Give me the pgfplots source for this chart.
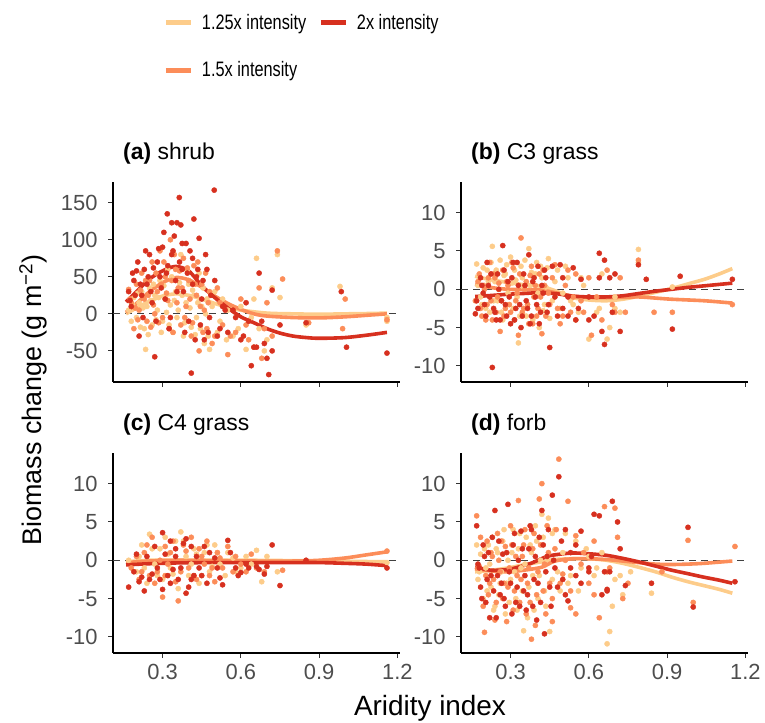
\documentclass[border=0pt]{standalone}
\usepackage{graphicx}
\usepackage{pgfplots}
\pgfplotsset{compat=1.18}
\usepackage{fontspec}
\setmainfont{Liberation Sans}
\definecolor{cL}{HTML}{FDCC8A}
\definecolor{cM}{HTML}{FC8D59}
\definecolor{cH}{HTML}{D7301F}
\definecolor{tickgray}{HTML}{4D4D4D}
\newcommand{\lgd}[1]{\scalebox{0.78}[1]{#1}}
\pgfplotsset{
  panel/.style={
    scale only axis, width=287bp, height=200bp,
    xmin=0.11, xmax=1.21,
    xtick={0.3,0.6,0.9,1.2},
    axis x line*=bottom, axis y line*=left,
    axis line style={black, line width=1.1bp, -},
    every tick/.style={black!80, line width=1bp},
    tick align=outside, major tick length=5bp,
    tick label style={font=\fontsize{22}{22}\selectfont, text=tickgray},
    xticklabel style={yshift=-3bp}, yticklabel style={xshift=-7bp},
    title style={at={(0.035,1)}, anchor=base west, yshift=17bp, font=\fontsize{23}{23}\selectfont, inner sep=0pt},
  },
  smallpanel/.style={ymin=-12.1, ymax=14, ytick={-10,-5,0,5,10}, yticklabels={-10,-5,0,5,10}},
  pts/.style={only marks, mark=*, color=#1, mark size=2.6bp, mark options={draw=#1, fill=#1, line width=0.4bp}, forget plot},
  fit/.style={color=#1, line width=3.6bp, smooth, no marks, forget plot},
  zero/.style={forget plot, color=black!75, line width=0.9bp, dash pattern=on 7bp off 5bp},
}
\begin{document}
\begin{tikzpicture}
\useasboundingbox (0bp,0bp) rectangle (765bp,723bp);

% ---------------- (a) shrub
\begin{axis}[panel, at={(113bp,341bp)}, anchor=south west,
  ymin=-92, ymax=178, ytick={-50,0,50,100,150}, yticklabels={-50,0,50,100,150},
  xticklabels={,,,},
  title={\textbf{(a)} shrub},
  legend columns=2,
  legend cell align=left,
  legend style={at={(0.164,1.86)}, anchor=north west, draw=none, fill=none,
    font=\fontsize{21}{21}\selectfont, row sep=27bp,
    /tikz/every even column/.append style={column sep=10bp}},
  legend image code/.code={\draw[#1, line width=5bp] (0bp,0bp) -- (25bp,0bp); \path (34bp,0bp);},
]
\addlegendimage{color=cL}\addlegendentry{\lgd{1.25x intensity}}
\addlegendimage{color=cH}\addlegendentry{\lgd{2x intensity}}
\addlegendimage{color=cM}\addlegendentry{\lgd{1.5x intensity}}
\addplot[zero] coordinates {(0.11,0) (1.21,0)};
\addplot[pts=cL] coordinates {(0.17,5) (0.18,-10) (0.19,22) (0.2,-5) (0.21,15) (0.22,30) (0.23,-20) (0.235,-48) (0.24,10) (0.25,35) (0.26,-15) (0.27,25) (0.28,5) (0.29,45) (0.3,-10) (0.31,20) (0.32,60) (0.33,12) (0.34,-25) (0.35,30) (0.36,5) (0.37,80) (0.38,-30) (0.39,15) (0.4,40) (0.41,-18) (0.42,25) (0.43,-5) (0.44,55) (0.45,10) (0.46,-40) (0.47,20) (0.48,-48) (0.5,30) (0.52,-10) (0.55,5) (0.57,-30) (0.6,10) (0.62,-48) (0.65,20) (0.66,75) (0.67,-20) (0.69,-50) (0.72,35) (0.74,80) (0.75,22) (0.85,-15) (0.98,37) (1.16,-10) (1.16,-5)
 (0.185,12) (0.205,28) (0.215,-18) (0.225,8) (0.245,-28) (0.255,18) (0.265,40) (0.275,-8) (0.285,22) (0.295,-25) (0.305,38) (0.315,2) (0.325,-15) (0.335,50) (0.345,18) (0.355,-5) (0.365,42) (0.375,25) (0.385,-12) (0.395,58) (0.405,8) (0.415,32) (0.425,-28) (0.435,15) (0.445,-20) (0.455,35) (0.465,0) (0.475,-30) (0.49,10) (0.51,-25) (0.53,20) (0.545,-35) (0.59,-20) (0.64,-5) (0.7,-35)};
\addplot[pts=cM] coordinates {(0.17,33) (0.18,15) (0.19,-20) (0.2,40) (0.21,5) (0.22,55) (0.23,20) (0.24,-10) (0.25,45) (0.26,70) (0.27,0) (0.28,30) (0.29,85) (0.3,-5) (0.31,50) (0.32,18) (0.33,100) (0.34,-25) (0.35,60) (0.36,35) (0.37,-15) (0.38,75) (0.39,10) (0.4,45) (0.41,-30) (0.42,65) (0.43,25) (0.44,-50) (0.45,40) (0.46,5) (0.47,-20) (0.48,30) (0.5,-30) (0.52,15) (0.55,-55) (0.58,-25) (0.6,20) (0.63,-35) (0.65,-45) (0.67,35) (0.69,-20) (0.72,-30) (0.74,85) (0.76,47) (0.86,-12) (1.0,20) (0.99,-20) (1.16,-8)
 (0.175,20) (0.195,8) (0.205,-8) (0.215,32) (0.235,45) (0.245,25) (0.255,-18) (0.265,12) (0.275,55) (0.285,-12) (0.295,40) (0.305,70) (0.315,28) (0.325,-20) (0.335,45) (0.345,80) (0.355,15) (0.365,58) (0.375,35) (0.385,-5) (0.395,62) (0.405,20) (0.415,-12) (0.425,40) (0.435,70) (0.445,10) (0.455,-25) (0.465,55) (0.475,15) (0.49,-40) (0.51,35) (0.53,-15) (0.56,-30) (0.62,-15) (0.68,-60) (0.7,15)};
\addplot[pts=cH] coordinates {(0.17,30) (0.18,10) (0.19,45) (0.2,58) (0.21,-30) (0.22,25) (0.23,60) (0.24,40) (0.25,80) (0.26,15) (0.27,-58) (0.28,70) (0.29,50) (0.3,90) (0.31,20) (0.318,135) (0.32,65) (0.33,-5) (0.335,123) (0.34,85) (0.35,45) (0.355,123) (0.364,157) (0.37,120) (0.375,60) (0.38,30) (0.39,95) (0.4,-10) (0.41,-80) (0.415,75) (0.42,128) (0.43,50) (0.44,102) (0.45,20) (0.46,-35) (0.47,60) (0.48,-5) (0.498,167) (0.5,45) (0.51,-30) (0.53,10) (0.55,-25) (0.57,5) (0.6,-35) (0.62,15) (0.64,-70) (0.66,-45) (0.67,55) (0.68,-10) (0.7,-60) (0.707,-82) (0.72,32) (0.75,-15) (0.85,-12) (0.985,30) (1.005,-45) (1.16,-53)
 (0.175,18) (0.185,55) (0.195,25) (0.205,70) (0.215,40) (0.225,-5) (0.235,85) (0.245,50) (0.255,30) (0.265,62) (0.275,-10) (0.285,88) (0.295,35) (0.305,110) (0.315,55) (0.325,-20) (0.335,80) (0.345,105) (0.355,30) (0.365,70) (0.375,95) (0.385,-25) (0.395,55) (0.405,85) (0.415,40) (0.425,-35) (0.435,60) (0.445,-15) (0.455,45) (0.465,80) (0.475,-25) (0.485,25) (0.52,-20) (0.54,5) (0.58,-5) (0.61,-30) (0.63,-10) (0.65,-45) (0.69,-40) (0.72,-50)};
\addplot[fit=cL] coordinates {(0.16,0) (0.2,8) (0.25,17) (0.3,24) (0.35,27) (0.4,25) (0.45,20) (0.5,14) (0.55,9) (0.6,5) (0.7,1) (0.8,0) (0.9,-0.5) (1.0,0) (1.1,0.5) (1.16,1)};
\addplot[fit=cM] coordinates {(0.16,2) (0.2,14) (0.25,30) (0.3,42) (0.35,49) (0.4,46) (0.45,36) (0.5,24) (0.55,14) (0.6,6) (0.65,0) (0.7,-3) (0.8,-5) (0.9,-5.5) (1.0,-4) (1.1,-1.5) (1.16,0)};
\addplot[fit=cH] coordinates {(0.16,16) (0.2,30) (0.25,47) (0.3,58) (0.35,64) (0.4,58) (0.45,38) (0.5,22) (0.55,8) (0.6,-4) (0.65,-12) (0.7,-20) (0.75,-26) (0.8,-30) (0.85,-32) (0.9,-33) (1.0,-32) (1.1,-28) (1.16,-25)};
\end{axis}

% ---------------- (b) C3 grass
\begin{axis}[panel, smallpanel, at={(461bp,341bp)}, anchor=south west,
  xticklabels={,,,}, title={\textbf{(b)} C3 grass}]
\addplot[zero] coordinates {(0.11,0) (1.21,0)};
\addplot[pts=cL] coordinates {(0.17,3.3) (0.18,1.5) (0.19,-2) (0.2,0.5) (0.21,2.5) (0.22,-3) (0.23,5.6) (0.24,1) (0.25,-1.5) (0.26,3.8) (0.27,-4) (0.28,2) (0.29,-0.5) (0.3,4.2) (0.31,-2.5) (0.32,1.2) (0.33,-7) (0.34,3) (0.35,0.3) (0.36,-3.5) (0.37,5.3) (0.38,2.2) (0.39,-1) (0.4,3.5) (0.41,-5) (0.42,1.5) (0.43,-2) (0.44,2.8) (0.45,-3.8) (0.47,1) (0.49,-2.5) (0.51,3) (0.53,-1.5) (0.55,-4) (0.57,1.5) (0.6,-6.5) (0.63,-3) (0.65,2) (0.67,-6.5) (0.68,-5) (0.7,-1) (0.72,-3) (0.79,5.2) (0.79,3.5) (0.92,0.3)
 (0.175,0.5) (0.185,-1) (0.195,2.8) (0.205,-2.5) (0.215,1) (0.225,3.5) (0.235,-1.5) (0.245,2.5) (0.255,0) (0.265,-3) (0.275,1.8) (0.285,3.2) (0.295,-2) (0.305,0.8) (0.315,2.5) (0.325,-1) (0.335,-3.5) (0.345,1.5) (0.355,3.8) (0.365,-2) (0.375,0.5) (0.385,-4) (0.395,2) (0.405,-0.5) (0.415,3) (0.425,-2.8) (0.435,0.3) (0.445,4) (0.46,-1.5) (0.48,2.5) (0.5,-0.5) (0.52,1.5) (0.54,-2) (0.56,-3) (0.58,0.5) (0.64,-2.5) (0.7,-2.5)};
\addplot[pts=cM] coordinates {(0.165,-1.5) (0.18,2) (0.19,-3.5) (0.2,0) (0.21,-2) (0.22,3.5) (0.23,-4) (0.24,1.5) (0.25,-1) (0.26,-5.5) (0.27,2.5) (0.28,-2.5) (0.29,0.5) (0.3,-3) (0.31,2.8) (0.32,-1.5) (0.33,-6) (0.34,6.7) (0.35,-2.5) (0.36,1) (0.37,-4.5) (0.38,3) (0.39,-1) (0.4,-3.5) (0.41,2) (0.42,-5.8) (0.43,0.5) (0.45,-2) (0.47,3.2) (0.49,-4.5) (0.51,0.5) (0.53,-3) (0.55,2) (0.57,-1.5) (0.6,1.5) (0.61,-6) (0.65,-4) (0.67,2.5) (0.69,-2) (0.72,1.5) (0.74,-3) (0.79,3.8) (0.85,-3) (0.92,-3) (1.15,-2)
 (0.175,1) (0.185,-2.5) (0.195,0.5) (0.205,-4) (0.215,1.5) (0.225,-1.5) (0.235,2) (0.245,-3) (0.255,0.8) (0.265,-1.5) (0.275,-3.5) (0.285,1) (0.295,-2) (0.305,3.5) (0.315,-4) (0.325,-0.5) (0.335,2) (0.345,-3) (0.355,0) (0.365,-2) (0.375,1.8) (0.385,-4.5) (0.395,0.5) (0.405,-2.5) (0.415,-1) (0.425,2.5) (0.435,-3.5) (0.445,-0.5) (0.46,1.5) (0.48,-2.5) (0.5,-3.5) (0.52,2.5) (0.54,-1) (0.58,-3) (0.63,-1) (0.7,-3)};
\addplot[pts=cH] coordinates {(0.165,-3.2) (0.17,-1.5) (0.19,0.5) (0.2,-2) (0.21,3.5) (0.22,-1) (0.23,-10.2) (0.24,-3) (0.25,2) (0.26,-4) (0.27,5.7) (0.28,-2) (0.29,1) (0.3,-4.5) (0.31,3.5) (0.32,-2.5) (0.33,0.5) (0.34,-5) (0.35,2) (0.36,-1.5) (0.37,4.5) (0.38,-3.5) (0.39,1.5) (0.4,-2) (0.41,-4.5) (0.42,0.5) (0.43,2.5) (0.44,-3) (0.45,-7.6) (0.47,-1) (0.49,3.2) (0.5,-2.5) (0.52,-3.5) (0.55,-4) (0.57,1.3) (0.6,-4) (0.62,-3.5) (0.64,4.7) (0.65,-5.5) (0.66,-7.2) (0.66,3.8) (0.68,1.5) (0.7,2) (0.72,-5.5) (0.79,3.2) (0.82,1.3) (0.92,-5.2) (0.95,1.7) (1.15,1.3)
 (0.175,-2.5) (0.185,1.5) (0.195,-0.5) (0.205,-3.5) (0.215,0.5) (0.225,2) (0.235,-2.5) (0.245,-4) (0.255,0) (0.265,-1.5) (0.275,2.5) (0.285,-3.5) (0.295,-1) (0.305,1.5) (0.315,-4) (0.325,3.5) (0.335,-2) (0.345,-3.5) (0.355,0.5) (0.365,-2.5) (0.375,-4.5) (0.385,1) (0.395,-1) (0.405,3) (0.415,-3) (0.425,-0.5) (0.435,1.5) (0.445,-2) (0.46,3) (0.48,-3.5) (0.5,1.5) (0.52,-1) (0.54,2.8) (0.56,-2.5) (0.6,-1) (0.64,1.5) (0.69,-3)};
\addplot[fit=cL] coordinates {(0.164,1.7) (0.23,1.2) (0.29,0.9) (0.35,0.6) (0.415,0.4) (0.48,-0.3) (0.54,-1.1) (0.6,-1.4) (0.667,-1.5) (0.73,-1.3) (0.792,-0.9) (0.855,-0.4) (0.918,0.1) (0.98,0.7) (1.043,1.3) (1.1,2) (1.15,2.7)};
\addplot[fit=cM] coordinates {(0.164,0.65) (0.23,0.2) (0.29,0) (0.35,-0.05) (0.415,-0.1) (0.48,-0.5) (0.54,-0.9) (0.6,-1.05) (0.667,-1.1) (0.73,-1.05) (0.792,-1.0) (0.855,-1.15) (0.918,-1.3) (1.043,-1.5) (1.15,-1.8)};
\addplot[fit=cH] coordinates {(0.164,-0.95) (0.23,-0.8) (0.29,-0.65) (0.35,-0.55) (0.415,-0.45) (0.48,-0.6) (0.54,-0.9) (0.6,-1.0) (0.667,-1.0) (0.73,-0.85) (0.792,-0.55) (0.855,-0.25) (0.918,0) (0.98,0.25) (1.043,0.45) (1.15,0.8)};
\end{axis}

% ---------------- (c) C4 grass
\begin{axis}[panel, smallpanel, at={(113bp,70bp)}, anchor=south west,
  xticklabels={0.3,0.6,0.9,1.2}, title={\textbf{(c)} C4 grass}]
\addplot[zero] coordinates {(0.11,0) (1.21,0)};
\addplot[pts=cL] coordinates {(0.17,0) (0.2,-1.5) (0.22,2) (0.24,-3) (0.25,3.4) (0.27,-0.5) (0.29,1.5) (0.3,-2.5) (0.31,3) (0.33,-1) (0.35,2.5) (0.36,-3.7) (0.37,3.7) (0.39,0.5) (0.4,-2) (0.42,1.5) (0.44,-3) (0.46,1) (0.48,-1.5) (0.5,2) (0.52,-0.5) (0.55,1) (0.58,-1.5) (0.62,0.5) (0.66,1.3) (0.68,-2.8) (0.7,0.5) (0.74,-1.5) (1.16,-0.3)
 (0.21,0.5) (0.23,-1) (0.26,1.5) (0.28,-2) (0.32,0.8) (0.34,-1.8) (0.38,2.5) (0.41,-0.5) (0.43,0.8) (0.45,-2) (0.47,2) (0.49,-0.8) (0.51,1) (0.54,-2) (0.57,0.3) (0.6,-1) (0.64,-0.5)};
\addplot[pts=cM] coordinates {(0.18,-1) (0.21,-2.5) (0.23,1) (0.25,-2) (0.26,3) (0.28,-1.5) (0.3,-4.8) (0.31,1.8) (0.32,-0.5) (0.34,2.5) (0.35,-2.8) (0.36,-5.3) (0.38,2) (0.4,-1) (0.41,3) (0.43,-2.5) (0.45,0.5) (0.47,2.5) (0.49,-1) (0.5,-2.8) (0.52,0.3) (0.55,1.8) (0.57,-1.5) (0.6,-0.5) (0.64,0.8) (0.66,-1) (0.69,-1.5) (0.76,-1.3) (1.16,1.2)
 (0.2,0.5) (0.22,-1.5) (0.24,2) (0.27,-3) (0.29,0) (0.31,-2) (0.33,1) (0.37,-1.5) (0.39,1.2) (0.42,-2) (0.44,1.5) (0.46,-0.5) (0.48,-2) (0.51,1) (0.53,-1) (0.58,0.5) (0.62,-1.5)};
\addplot[pts=cH] coordinates {(0.17,-3.5) (0.2,0.8) (0.22,-2.2) (0.23,-4) (0.25,-2.5) (0.27,1.8) (0.28,-1) (0.3,3.6) (0.3,-3.8) (0.32,-2) (0.33,2.5) (0.34,-1.2) (0.35,0.5) (0.36,-2.5) (0.38,2.2) (0.39,-4.3) (0.4,-3.5) (0.41,1.8) (0.42,-2) (0.44,-1) (0.46,1.8) (0.47,-3) (0.5,0.3) (0.52,-2.3) (0.55,2.6) (0.58,-1) (0.6,-1.6) (0.63,-1) (0.66,-0.8) (0.69,-1.8) (0.72,2) (0.75,-3.3) (0.85,0) (1.16,-1)
 (0.19,-1.5) (0.21,-2.8) (0.24,0.5) (0.26,-1.8) (0.29,-2.5) (0.31,0.8) (0.33,-3) (0.35,1.5) (0.37,-1) (0.39,2.8) (0.41,-2.5) (0.43,0.5) (0.45,-2) (0.48,1) (0.51,-1) (0.53,-3.2) (0.56,1) (0.59,-2) (0.62,-0.5) (0.67,-1.2) (0.7,-0.8)};
\addplot[fit=cL] coordinates {(0.16,-0.2) (0.25,0) (0.35,0) (0.5,0) (0.65,0) (0.8,-0.05) (0.95,-0.1) (1.05,-0.15) (1.16,-0.2)};
\addplot[fit=cM] coordinates {(0.16,-0.3) (0.25,-0.1) (0.35,0) (0.5,-0.05) (0.65,-0.1) (0.8,-0.1) (0.9,0) (1.0,0.3) (1.08,0.7) (1.16,1.1)};
\addplot[fit=cH] coordinates {(0.16,-0.6) (0.25,-0.45) (0.35,-0.35) (0.5,-0.3) (0.65,-0.3) (0.8,-0.3) (0.9,-0.3) (1.0,-0.4) (1.08,-0.5) (1.16,-0.7)};
\end{axis}

% ---------------- (d) forb
\begin{axis}[panel, smallpanel, at={(461bp,70bp)}, anchor=south west,
  xticklabels={0.3,0.6,0.9,1.2}, title={\textbf{(d)} forb}]
\addplot[zero] coordinates {(0.11,0) (1.21,0)};
\addplot[pts=cL] coordinates {(0.17,2) (0.18,-1.5) (0.2,1.5) (0.21,-4) (0.22,-0.5) (0.23,3) (0.24,-6) (0.25,1) (0.26,-3) (0.27,2.5) (0.28,-7) (0.29,0) (0.3,-2.5) (0.31,4) (0.32,-5) (0.33,1.5) (0.34,-1) (0.35,-9.2) (0.36,3) (0.37,-3.5) (0.38,1) (0.39,-6.5) (0.4,2.5) (0.41,-2) (0.42,6) (0.43,-4) (0.44,0.5) (0.45,-9.3) (0.46,3.5) (0.48,-1.5) (0.5,1) (0.52,-3) (0.55,2.5) (0.57,-1) (0.6,0.5) (0.62,-2) (0.65,1) (0.67,-10.9) (0.68,-9.3) (0.7,-2.5) (0.73,-4.5) (0.76,-1.5) (0.84,-4.3)
 (0.175,-2.5) (0.185,0.8) (0.195,-5) (0.205,-1) (0.215,2) (0.225,-3.5) (0.235,-6.5) (0.245,1.5) (0.255,-4.5) (0.265,-1.5) (0.275,4) (0.285,-3) (0.295,-5.5) (0.305,1) (0.315,-1.5) (0.325,-6.5) (0.335,3.5) (0.345,-4) (0.355,-0.5) (0.365,-7.5) (0.375,2) (0.385,-2) (0.395,4.5) (0.405,-5) (0.415,0) (0.425,3) (0.435,-6) (0.445,5.5) (0.46,-2.5) (0.47,4) (0.49,-4) (0.51,3.5) (0.53,-2) (0.56,-4) (0.59,1.5) (0.63,-1) (0.69,-6) (0.72,-2)};
\addplot[pts=cM] coordinates {(0.17,5.8) (0.18,-0.8) (0.2,-9.4) (0.21,2.5) (0.22,-3) (0.23,0.5) (0.24,-7.8) (0.25,3.5) (0.26,-1.5) (0.27,-5) (0.28,1.8) (0.29,-3.5) (0.3,4.5) (0.31,-6.5) (0.32,0.5) (0.33,7.8) (0.34,-2.5) (0.35,2) (0.36,-7) (0.37,-1) (0.38,-10.3) (0.39,3.5) (0.4,-4.5) (0.41,8) (0.42,10) (0.43,-0.5) (0.44,4.5) (0.45,-3) (0.46,-8) (0.47,1.5) (0.485,13.2) (0.5,-1.8) (0.52,7.7) (0.53,-6.2) (0.55,3.2) (0.57,-0.5) (0.6,-3) (0.62,2.5) (0.64,-7.5) (0.66,7) (0.68,-1) (0.7,6.8) (0.73,-5) (0.75,-3) (0.88,-1.5) (0.98,2.6) (1.0,-5.5) (1.16,1.8)
 (0.175,-1) (0.185,3) (0.195,-6) (0.205,-2) (0.215,-4.5) (0.225,1) (0.235,-2.5) (0.245,-5.5) (0.255,0) (0.265,2.5) (0.275,-3) (0.285,-8) (0.295,-1) (0.305,2) (0.315,-4) (0.325,-2) (0.335,-5.5) (0.345,0.5) (0.355,4) (0.365,-3) (0.375,-5.5) (0.385,1.5) (0.395,-8.5) (0.405,-1.5) (0.415,2) (0.425,-4) (0.435,-7) (0.445,1) (0.46,-5) (0.475,4) (0.49,-3) (0.51,0) (0.53,-4) (0.55,-7) (0.58,1) (0.62,-4.5) (0.67,-1.5) (0.71,3)};
\addplot[pts=cH] coordinates {(0.17,4.5) (0.18,-1) (0.19,-5) (0.2,0.5) (0.21,-2.5) (0.22,-7.5) (0.23,3) (0.24,6.5) (0.25,-2) (0.26,-4.5) (0.27,0.8) (0.28,-6) (0.29,7.3) (0.3,-3) (0.31,2) (0.32,-5.5) (0.33,0) (0.34,3.8) (0.35,-4) (0.36,-6.5) (0.37,1.5) (0.38,4) (0.39,-2.5) (0.4,-7.8) (0.41,3) (0.42,6.5) (0.43,-9.6) (0.44,0.5) (0.45,-3.5) (0.46,8.5) (0.47,-1) (0.485,10.9) (0.5,-2.5) (0.51,4) (0.52,-5.3) (0.53,1) (0.55,-2) (0.57,3.8) (0.6,-1) (0.62,6) (0.64,5.8) (0.65,-4.5) (0.66,-1.5) (0.67,-4) (0.69,7.7) (0.71,5) (0.72,1.5) (0.74,-3.3) (0.84,-3) (0.98,4.3) (1.0,-6.1) (1.16,-2.8)
 (0.175,-0.5) (0.185,-3.5) (0.195,2) (0.205,-5.5) (0.215,1) (0.225,-2) (0.235,-4) (0.245,-7.5) (0.255,2.5) (0.265,-3) (0.275,-5) (0.285,1) (0.295,-1.5) (0.305,-7) (0.315,3.5) (0.325,-3.5) (0.335,-6) (0.345,1.5) (0.355,-2) (0.365,-4.5) (0.375,4.5) (0.385,-6) (0.395,0.5) (0.405,-3) (0.415,-5.5) (0.425,2) (0.435,-1.5) (0.445,4) (0.455,-6) (0.465,0) (0.48,-3.5) (0.495,2.5) (0.51,-4.5) (0.53,-1) (0.55,2) (0.57,-3) (0.6,-1.5) (0.61,0.5) (0.67,-3.8) (0.68,-1.5)};
\addplot[fit=cL] coordinates {(0.164,-1.5) (0.227,-1.3) (0.29,-1.0) (0.35,-0.6) (0.42,-0.2) (0.47,0.1) (0.54,0.2) (0.6,0.2) (0.667,0.0) (0.73,-0.4) (0.79,-0.9) (0.855,-1.5) (0.918,-2.2) (0.98,-2.8) (1.04,-3.3) (1.1,-3.8) (1.15,-4.3)};
\addplot[fit=cM] coordinates {(0.164,-1.1) (0.227,-1.4) (0.29,-1.5) (0.35,-1.3) (0.42,-0.9) (0.47,-0.1) (0.54,0.2) (0.6,0.2) (0.667,0.1) (0.73,-0.1) (0.79,-0.3) (0.855,-0.5) (0.918,-0.55) (0.98,-0.5) (1.04,-0.4) (1.15,-0.1)};
\addplot[fit=cH] coordinates {(0.164,-0.9) (0.227,-1.3) (0.29,-1.2) (0.34,-0.8) (0.378,-0.4) (0.44,0.5) (0.49,0.8) (0.54,0.95) (0.6,0.85) (0.667,0.65) (0.73,0.25) (0.79,-0.2) (0.855,-0.75) (0.918,-1.3) (0.98,-1.75) (1.04,-2.2) (1.1,-2.6) (1.15,-3.0)};
\end{axis}

\node[rotate=90, font=\fontsize{27}{27}\selectfont] at (33bp,323bp) {Biomass change (g m\textsuperscript{−2})};
\node[anchor=base, font=\fontsize{28}{28}\selectfont] at (430bp,8bp) {Aridity index};
\end{tikzpicture}
\end{document}
